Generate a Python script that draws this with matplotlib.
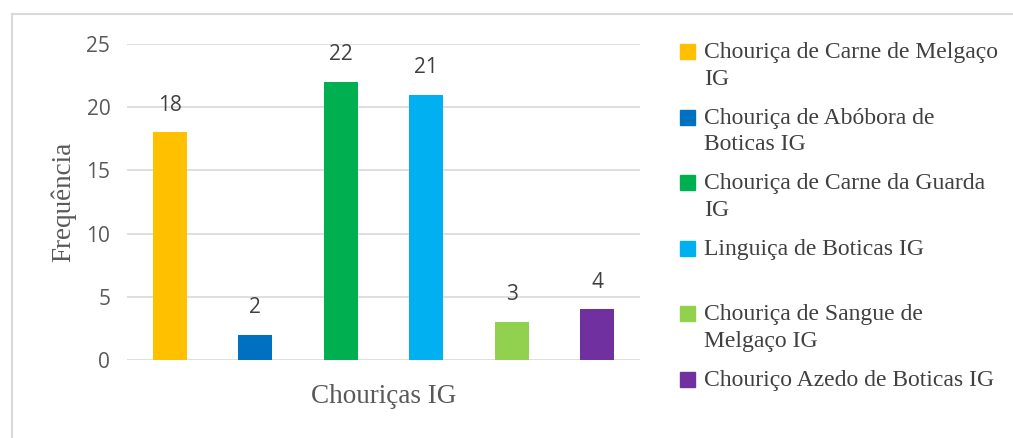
import matplotlib
matplotlib.use("Agg")
import matplotlib.pyplot as plt
from matplotlib.patches import Rectangle
from matplotlib.lines import Line2D

# dados
categorias = ["Chouriça de Carne de Melgaço\nIG",
              "Chouriça de Abóbora de\nBoticas IG",
              "Chouriça de Carne da Guarda\nIG",
              "Linguiça de Boticas IG",
              "Chouriça de Sangue de\nMelgaço IG",
              "Chouriço Azedo de Boticas IG"]
frequencias = [18, 2, 22, 21, 3, 4]
cores = ["#FFC000", "#0070C0", "#00B050", "#00B0F0", "#92D050", "#7030A0"]
yticks = [0, 5, 10, 15, 20, 25]

W, H = 1013, 438
fig = plt.figure(figsize=(W / 100, H / 100), dpi=100)
ax = fig.add_axes([127 / W, 1 - 360 / H, 513 / W, 316 / H])

sans = "Open Sans"
serif = "Liberation Serif"
cinza = "#595959"

x = list(range(len(frequencias)))
barras = ax.bar(x, frequencias, width=0.4, color=cores, zorder=3)
ax.bar_label(barras, padding=12, fontsize=15, color="#404040", family=sans)

ax.set_xlim(-0.5, len(frequencias) - 0.5)
ax.set_ylim(0, 25)
ax.set_yticks(yticks)
ax.set_xticks([])
ax.tick_params(axis="y", length=0, pad=12, labelsize=15, labelcolor=cinza)
for lbl in ax.get_yticklabels():
    lbl.set_family(sans)
ax.grid(axis="y", color="#D9D9D9", linewidth=1.2, zorder=0)
for s in ax.spines.values():
    s.set_visible(False)

ax.set_ylabel("Frequência", family=serif, fontsize=19.5, color=cinza)
ax.yaxis.set_label_coords(-0.099, 0.5)
ax.text(0.5, -0.117, "Chouriças IG", transform=ax.transAxes, ha="center",
        va="center", family=serif, fontsize=19.5, color=cinza)

# legenda manual
for i, (lab, c) in enumerate(zip(categorias, cores)):
    base = 59 + i * 65.6
    fig.patches.append(Rectangle((680 / W, 1 - base / H), 15 / W, 15 / H,
                                 transform=fig.transFigure, color=c))
    fig.text(704 / W, 1 - (base - 17) / H, lab, ha="left", va="top",
             family=serif, fontsize=17, color="#404040", linespacing=1.35)

# moldura
fig.add_artist(Line2D([11.5 / W, 1], [1 - 14 / H, 1 - 14 / H],
                      color="#D9D9D9", linewidth=1.5))
fig.add_artist(Line2D([11.5 / W, 11.5 / W], [0, 1 - 14 / H],
                      color="#D9D9D9", linewidth=1.5))

fig.savefig("out.png", dpi=100)
